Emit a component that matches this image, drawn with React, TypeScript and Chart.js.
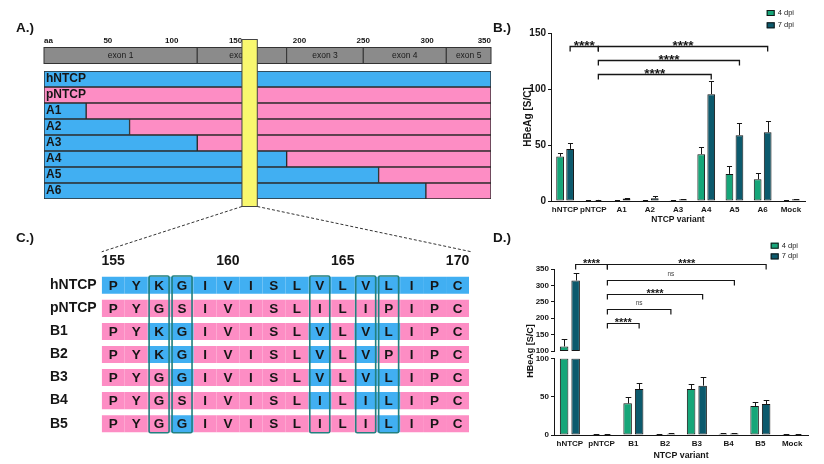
import React, { useEffect, useRef } from 'react';
import { Chart, registerables } from 'chart.js';

Chart.register(...registerables);

const FONT = "'Liberation Sans', Arial, Helvetica, sans-serif";
const HUMAN_BLUE = '#41aff2';
const PIG_PINK = '#fd8dc4';
const DPI4_GREEN = '#16a679';
const DPI7_TEAL = '#0c5a6d';
const INK = '#161616';
const YTITLE = 'HBeAg [S/C]';
const XTITLE = 'NTCP variant';

// ---------- Panel A: chimeric NTCP constructs ----------
const rulerTicks = [0, 50, 100, 150, 200, 250, 300, 350];
const exonNames = ['exon 1', 'exon 2', 'exon 3', 'exon 4', 'exon 5'];
const exonBounds = [0, 120, 190, 250, 315, 350];
const chimeraNames = ['hNTCP', 'pNTCP', 'A1', 'A2', 'A3', 'A4', 'A5', 'A6'];
const chimeraHumanEnd = [350, 0, 33, 67, 120, 190, 262, 299];
const proteinLength = 350;
const zoomWindow = [155, 167];

// ---------- Panel C: residues 155-170 ----------
const residuePositions = [155, 156, 157, 158, 159, 160, 161, 162, 163, 164, 165, 166, 167, 168, 169, 170];
const positionTicks = [155, 160, 165, 170];
const variantNames = ['hNTCP', 'pNTCP', 'B1', 'B2', 'B3', 'B4', 'B5'];
const variantSequences = [
  'PYKGIVISLVLVLIPC',
  'PYGSIVISLILIPIPC',
  'PYKGIVISLVLVLIPC',
  'PYKGIVISLVLVPIPC',
  'PYGGIVISLVLVLIPC',
  'PYGSIVISLILILIPC',
  'PYGGIVISLILILIPC',
];
const variantOrigins = [
  'hhhhhhhhhhhhhhhh',
  'pppppppppppppppp',
  'pphhppppphphhppp',
  'pphhppppphphpppp',
  'ppphppppphphhppp',
  'ppppppppphphhppp',
  'ppphpppppppphppp',
];
const boxedPositions = [157, 158, 164, 166, 167];

// ---------- Panel B ----------
const groupsB = ['hNTCP', 'pNTCP', 'A1', 'A2', 'A3', 'A4', 'A5', 'A6', 'Mock'];
const b4dpi = [39.7, 0.5, 0.5, 0.6, 0.3, 41.8, 24.2, 19.4, 0.5];
const b4dpiErr = [42.6, 0.8, 0.8, 0.9, 0.5, 48.3, 31.6, 24.8, 0.8];
const b7dpi = [46.5, 1, 2.2, 2.4, 1.5, 95.4, 58.8, 61.4, 1.5];
const b7dpiErr = [52.2, 1.3, 2.6, 4.8, 1.9, 106.8, 69.5, 71.3, 1.9];
const sigB: [number, number, number, string][] = [
  [0, 1, 138, '****'],
  [1, 7, 138, '****'],
  [1, 6, 125.5, '****'],
  [1, 5, 113.6, '****'],
];

// ---------- Panel D ----------
const groupsD = ['hNTCP', 'pNTCP', 'B1', 'B2', 'B3', 'B4', 'B5', 'Mock'];
const d4dpi = [114, 1, 41.3, 1, 60, 1.5, 37.9, 1];
const d4dpiErr = [136, 1.3, 49.1, 1.3, 67, 2, 42.6, 1.3];
const d7dpi = [315, 1, 60, 1.5, 64.4, 2, 40.5, 1];
const d7dpiErr = [338, 1.3, 67.5, 2, 75.7, 2.7, 45.3, 1.3];
const axisBreak = 100;
const sigD: [number, number, number, string][] = [
  [0, 1, 364, '****'],
  [1, 6, 364, '****'],
  [1, 5, 316, 'ns'],
  [1, 4, 273, '****'],
  [1, 3, 228, 'ns'],
  [1, 2, 184, '****'],
];

const panelLabels = ['A.)', 'B.)', 'C.)', 'D.)'];

const fnt = (size: number, bold = true) => ({ family: FONT, size, weight: bold ? 'bold' : 'normal' });

function errorBarPlugin(values: number[][], tops: number[][]) {
  return {
    id: 'errorBars',
    afterDatasetsDraw(chart: any) {
      const ys = chart.scales.y;
      const ctx = chart.ctx;
      ctx.save();
      ctx.strokeStyle = INK;
      ctx.lineWidth = 1;
      values.forEach((vals, di) => {
        const meta = chart.getDatasetMeta(di);
        vals.forEach((v, i) => {
          if (v < ys.min || v > ys.max) return;
          const el = meta.data[i];
          if (!el) return;
          const x = Math.round(el.x) + 0.5;
          const yBar = ys.getPixelForValue(v);
          const yTop = Math.round(ys.getPixelForValue(tops[di][i])) + 0.5;
          const half = el.width * 0.33;
          ctx.beginPath();
          ctx.moveTo(x, yBar);
          ctx.lineTo(x, yTop);
          ctx.moveTo(x - half, yTop);
          ctx.lineTo(x + half, yTop);
          ctx.stroke();
        });
      });
      ctx.restore();
    },
  };
}

function bracketPlugin(sig: [number, number, number, string][], starSize: number, starGap: number, lw: number) {
  return {
    id: 'brackets',
    afterDraw(chart: any) {
      const ys = chart.scales.y;
      const meta = chart.getDatasetMeta(1);
      const ctx = chart.ctx;
      ctx.save();
      ctx.strokeStyle = INK;
      ctx.lineWidth = lw;
      sig.forEach(([a, b, level, label]) => {
        const xa = meta.data[a].x;
        const xb = meta.data[b].x;
        const y = Math.round(ys.getPixelForValue(level)) + 0.5;
        ctx.beginPath();
        ctx.moveTo(xa, y + 5);
        ctx.lineTo(xa, y);
        ctx.lineTo(xb, y);
        ctx.lineTo(xb, y + 5);
        ctx.stroke();
        ctx.textAlign = 'center';
        ctx.textBaseline = 'alphabetic';
        if (label === 'ns') {
          ctx.fillStyle = '#444';
          ctx.font = `normal 6.5px ${FONT}`;
          ctx.fillText(label, (xa + xb) / 2, y - 4.3);
        } else {
          ctx.fillStyle = INK;
          ctx.font = `bold ${starSize}px ${FONT}`;
          ctx.fillText(label, (xa + xb) / 2, y - starGap + 0.58 * starSize);
        }
      });
      ctx.restore();
    },
  };
}

function legendPlugin(x: number, y: number, gap: number) {
  return {
    id: 'boxLegend',
    afterDraw(chart: any) {
      const ctx = chart.ctx;
      ctx.save();
      chart.data.datasets.forEach((ds: any, k: number) => {
        const yy = y + k * gap;
        ctx.fillStyle = ds.backgroundColor;
        ctx.fillRect(x, yy, 8, 6);
        ctx.strokeStyle = INK;
        ctx.lineWidth = 1;
        ctx.strokeRect(x + 0.5, yy + 0.5, 7, 5);
        ctx.fillStyle = '#222';
        ctx.font = `normal 7.5px ${FONT}`;
        ctx.textAlign = 'left';
        ctx.textBaseline = 'middle';
        ctx.fillText(ds.label, x + 11, yy + 3);
      });
      ctx.restore();
    },
  };
}

function yAxis(min: number, max: number, size: number, width: number, title: any) {
  return {
    type: 'linear',
    min,
    max,
    afterFit: (s: any) => {
      s.width = width;
    },
    ticks: { stepSize: 50, font: fnt(size), color: INK, padding: 2 },
    grid: { display: true, drawOnChartArea: false, drawTicks: true, tickLength: 3, color: INK, lineWidth: 1 },
    border: { display: true, color: INK, width: 1 },
    title,
  };
}

function xAxis(size: number, height: number, titleSize: number, pad: number) {
  return {
    type: 'category',
    afterFit: (s: any) => {
      s.height = height;
    },
    grid: { display: false, drawTicks: false },
    border: { display: true, color: INK, width: 1 },
    ticks: { font: fnt(size), color: INK, padding: pad, autoSkip: false, maxRotation: 0 },
    title: { display: true, text: XTITLE, font: fnt(titleSize), color: INK, padding: 0 },
  };
}

export default function App() {
  const refA = useRef<HTMLCanvasElement>(null);
  const refB = useRef<HTMLCanvasElement>(null);
  const refC = useRef<HTMLCanvasElement>(null);
  const refDU = useRef<HTMLCanvasElement>(null);
  const refDL = useRef<HTMLCanvasElement>(null);

  useEffect(() => {
    const charts: Chart[] = [];
    const base = {
      responsive: false,
      animation: false,
      events: [],
    };
    const noPlug = { legend: { display: false }, tooltip: { enabled: false } };

    // ---------- A ----------
    const segStyle = {
      borderColor: '#2b2b2b',
      borderWidth: 1,
      borderSkipped: false,
      grouped: false,
      barPercentage: 1,
      categoryPercentage: 1,
    };
    const exonPlugin = {
      id: 'exons',
      afterDraw(chart: any) {
        const { ctx, chartArea: ca } = chart;
        const xs = chart.scales.x;
        ctx.save();
        for (let i = 0; i < exonNames.length; i++) {
          const x0 = xs.getPixelForValue(exonBounds[i]);
          const x1 = xs.getPixelForValue(exonBounds[i + 1]);
          const y0 = ca.top - 23.5;
          ctx.fillStyle = '#8b8b8b';
          ctx.fillRect(x0, y0, x1 - x0, 16);
          ctx.strokeStyle = '#333';
          ctx.lineWidth = 1;
          ctx.strokeRect(x0, y0, x1 - x0, 16);
          ctx.fillStyle = '#1a1a1a';
          ctx.font = `normal 8.5px ${FONT}`;
          ctx.textAlign = 'center';
          ctx.textBaseline = 'middle';
          ctx.fillText(exonNames[i], (x0 + x1) / 2, y0 + 8.5);
        }
        const z0 = xs.getPixelForValue(zoomWindow[0]);
        const z1 = xs.getPixelForValue(zoomWindow[1]);
        const top = ca.top - 31.5;
        const bottom = ca.bottom + 7.5;
        ctx.fillStyle = '#f9f86f';
        ctx.fillRect(z0, top, z1 - z0, bottom - top);
        ctx.strokeStyle = '#444';
        ctx.strokeRect(z0, top, z1 - z0, bottom - top);
        ctx.restore();
      },
    };
    const chartA = new Chart(refA.current as any, {
      type: 'bar',
      data: {
        labels: chimeraNames,
        datasets: [
          {
            label: 'human',
            data: chimeraHumanEnd.map((e) => (e > 0 ? [0, e] : null)),
            backgroundColor: HUMAN_BLUE,
            ...segStyle,
          },
          {
            label: 'pig',
            data: chimeraHumanEnd.map((e) => (e < proteinLength ? [e, proteinLength] : null)),
            backgroundColor: PIG_PINK,
            ...segStyle,
          },
        ],
      } as any,
      options: {
        ...base,
        indexAxis: 'y',
        layout: { padding: { left: 44, right: 9, top: 35, bottom: 11 } },
        plugins: noPlug,
        scales: {
          x: {
            type: 'linear',
            position: 'top',
            min: 0,
            max: proteinLength,
            afterBuildTicks: (s: any) => {
              s.ticks = rulerTicks.map((v) => ({ value: v }));
            },
            afterFit: (s: any) => {
              s.height = 36;
              s.paddingLeft = 0;
              s.paddingRight = 0;
            },
            grid: { display: false, drawTicks: false },
            border: { display: false },
            ticks: {
              align: 'inner',
              padding: 25,
              autoSkip: false,
              maxRotation: 0,
              color: INK,
              font: fnt(8),
              callback: (v: any) => (v === 0 ? 'aa' : String(v)),
            },
          },
          y: {
            type: 'category',
            afterFit: (s: any) => {
              s.width = 0;
            },
            grid: { display: false, drawTicks: false },
            border: { display: false },
            ticks: { z: 1, mirror: true, padding: 2, autoSkip: false, color: INK, font: fnt(12) },
          },
        },
      } as any,
      plugins: [exonPlugin],
    });
    charts.push(chartA);

    // ---------- C ----------
    const residuePlugin = {
      id: 'residues',
      afterDatasetsDraw(chart: any) {
        const { ctx, chartArea: ca } = chart;
        const xs = chart.scales.x;
        const ys = chart.scales.y;
        ctx.save();
        ctx.fillStyle = INK;
        ctx.font = `bold 13.5px ${FONT}`;
        ctx.textAlign = 'center';
        ctx.textBaseline = 'middle';
        variantSequences.forEach((seq, r) => {
          residuePositions.forEach((p, k) => {
            ctx.fillText(seq[k], xs.getPixelForValue(p), ys.getPixelForValue(r) + 0.5);
          });
        });
        ctx.strokeStyle = '#23807f';
        ctx.lineWidth = 1.6;
        boxedPositions.forEach((p) => {
          const x0 = xs.getPixelForValue(p - 0.5) + 1.5;
          const x1 = xs.getPixelForValue(p + 0.5) - 1.5;
          const y0 = ca.top + 2.2;
          const y1 = ca.bottom - 2.5;
          ctx.beginPath();
          if (ctx.roundRect) ctx.roundRect(x0, y0, x1 - x0, y1 - y0, 1.5);
          else ctx.rect(x0, y0, x1 - x0, y1 - y0);
          ctx.stroke();
        });
        // dashed zoom lines from panel A's highlighted window
        const ax = chartA.scales.x as any;
        const yStart = chartA.chartArea.bottom + 7.5 - 200;
        const yEnd = ca.top - 22;
        ctx.strokeStyle = '#333';
        ctx.lineWidth = 1;
        ctx.setLineDash([3, 2]);
        ctx.beginPath();
        ctx.moveTo(ax.getPixelForValue(zoomWindow[0]), yStart);
        ctx.lineTo(ca.left, yEnd);
        ctx.moveTo(ax.getPixelForValue(zoomWindow[1]), yStart);
        ctx.lineTo(ca.right + 2.5, yEnd);
        ctx.stroke();
        ctx.restore();
      },
    };
    const chartC = new Chart(refC.current as any, {
      type: 'bar',
      data: {
        labels: variantNames,
        datasets: residuePositions.map((p, k) => ({
          label: String(p),
          data: variantNames.map(() => [p - 0.5, p + 0.5]),
          backgroundColor: variantOrigins.map((o) => (o[k] === 'h' ? HUMAN_BLUE : PIG_PINK)),
          borderWidth: 0,
          grouped: false,
          barPercentage: 0.74,
          categoryPercentage: 1,
        })),
      } as any,
      options: {
        ...base,
        indexAxis: 'y',
        layout: { padding: { left: 50, right: 31, top: 52.8, bottom: 28.8 } },
        plugins: noPlug,
        scales: {
          x: {
            type: 'linear',
            position: 'top',
            min: 154.5,
            max: 170.5,
            afterBuildTicks: (s: any) => {
              s.ticks = positionTicks.map((v) => ({ value: v }));
            },
            afterFit: (s: any) => {
              s.height = 21;
            },
            grid: { display: false, drawTicks: false },
            border: { display: false },
            ticks: { padding: 4, font: fnt(14), color: INK, autoSkip: false, maxRotation: 0 },
          },
          y: {
            type: 'category',
            afterFit: (s: any) => {
              s.width = 51.7;
            },
            grid: { display: false, drawTicks: false },
            border: { display: false },
            ticks: { crossAlign: 'far', font: fnt(14), color: INK, autoSkip: false },
          },
        },
      } as any,
      plugins: [residuePlugin],
    });
    charts.push(chartC);

    // ---------- B ----------
    const barB = {
      borderColor: INK,
      borderWidth: 1,
      borderSkipped: false,
      barPercentage: 0.77,
      categoryPercentage: 0.71,
    };
    const chartB = new Chart(refB.current as any, {
      type: 'bar',
      data: {
        labels: groupsB,
        datasets: [
          { label: '4 dpi', data: b4dpi, backgroundColor: DPI4_GREEN, ...barB },
          { label: '7 dpi', data: b7dpi, backgroundColor: DPI7_TEAL, ...barB },
        ],
      } as any,
      options: {
        ...base,
        layout: { padding: { left: 32, right: 19, top: 33, bottom: 5 } },
        plugins: noPlug,
        scales: {
          x: xAxis(8, 24, 8.5, 4.2),
          y: yAxis(0, 150, 10, 29, { display: true, text: YTITLE, font: fnt(10), color: INK, padding: 0 }),
        },
      } as any,
      plugins: [
        errorBarPlugin([b4dpi, b7dpi], [b4dpiErr, b7dpiErr]),
        bracketPlugin(sigB, 13.5, 4.4, 1.3),
        legendPlugin(276.7, 10, 12.3),
      ],
    });
    charts.push(chartB);

    // ---------- D (broken axis: upper and lower segments) ----------
    const barD = {
      borderColor: INK,
      borderWidth: 1,
      borderSkipped: false,
      barPercentage: 0.74,
      categoryPercentage: 0.726,
    };
    const chartDU = new Chart(refDU.current as any, {
      type: 'bar',
      data: {
        labels: groupsD,
        datasets: [
          { label: '4 dpi', data: d4dpi.map((v) => (v > axisBreak ? [axisBreak, v] : null)), backgroundColor: DPI4_GREEN, ...barD },
          { label: '7 dpi', data: d7dpi.map((v) => (v > axisBreak ? [axisBreak, v] : null)), backgroundColor: DPI7_TEAL, ...barD },
        ],
      } as any,
      options: {
        ...base,
        layout: { padding: { left: 35, right: 16, top: 37, bottom: 7 } },
        plugins: noPlug,
        scales: {
          x: { type: 'category', display: false },
          y: yAxis(axisBreak, 350, 8, 29, { display: false }),
        },
      } as any,
      plugins: [
        errorBarPlugin([d4dpi, d7dpi], [d4dpiErr, d7dpiErr]),
        bracketPlugin(sigD, 11, 3.7, 1.2),
        legendPlugin(280.7, 10.7, 10.7),
      ],
    });
    charts.push(chartDU);

    const yTitlePlugin = {
      id: 'yTitleD',
      afterDraw(chart: any) {
        const ctx = chart.ctx;
        ctx.save();
        ctx.translate(41, 51);
        ctx.rotate(-Math.PI / 2);
        ctx.fillStyle = INK;
        ctx.font = `bold 9px ${FONT}`;
        ctx.textAlign = 'center';
        ctx.textBaseline = 'middle';
        ctx.fillText(YTITLE, 0, 0);
        ctx.restore();
      },
    };
    const chartDL = new Chart(refDL.current as any, {
      type: 'bar',
      data: {
        labels: groupsD,
        datasets: [
          { label: '4 dpi', data: d4dpi.map((v) => [0, Math.min(v, axisBreak)]), backgroundColor: DPI4_GREEN, ...barD },
          { label: '7 dpi', data: d7dpi.map((v) => [0, Math.min(v, axisBreak)]), backgroundColor: DPI7_TEAL, ...barD },
        ],
      } as any,
      options: {
        ...base,
        layout: { padding: { left: 35, right: 16, top: 58.4, bottom: 3.4 } },
        plugins: noPlug,
        scales: {
          x: xAxis(8, 25.6, 8.8, 3.6),
          y: yAxis(0, axisBreak, 8, 29, { display: false }),
        },
      } as any,
      plugins: [errorBarPlugin([d4dpi, d7dpi], [d4dpiErr, d7dpiErr]), yTitlePlugin],
    });
    charts.push(chartDL);

    return () => charts.forEach((c) => c.destroy());
  }, []);

  const labelPos = [
    [16, 21],
    [493, 21],
    [16, 231],
    [493, 231],
  ];
  const cv = (left: number, top: number, w: number, h: number) => ({
    position: 'absolute' as const,
    left,
    top,
    width: w,
    height: h,
  });

  return (
    <div
      style={{
        position: 'absolute',
        left: 0,
        top: 0,
        width: 824,
        height: 464,
        background: '#fff',
        overflow: 'hidden',
        fontFamily: FONT,
      }}
    >
      <canvas ref={refA} width={500} height={210} style={cv(0, 0, 500, 210)} />
      <canvas ref={refC} width={500} height={264} style={cv(0, 200, 500, 264)} />
      <canvas ref={refB} width={334} height={230} style={cv(490, 0, 334, 230)} />
      <canvas ref={refDU} width={334} height={126} style={cv(490, 232, 334, 126)} />
      <canvas ref={refDL} width={334} height={164} style={cv(490, 300, 334, 164)} />
      {panelLabels.map((t, i) => (
        <div
          key={t}
          style={{
            position: 'absolute',
            left: labelPos[i][0],
            top: labelPos[i][1],
            fontWeight: 'bold',
            fontSize: 13.5,
            lineHeight: '14px',
            color: INK,
          }}
        >
          {t}
        </div>
      ))}
    </div>
  );
}
